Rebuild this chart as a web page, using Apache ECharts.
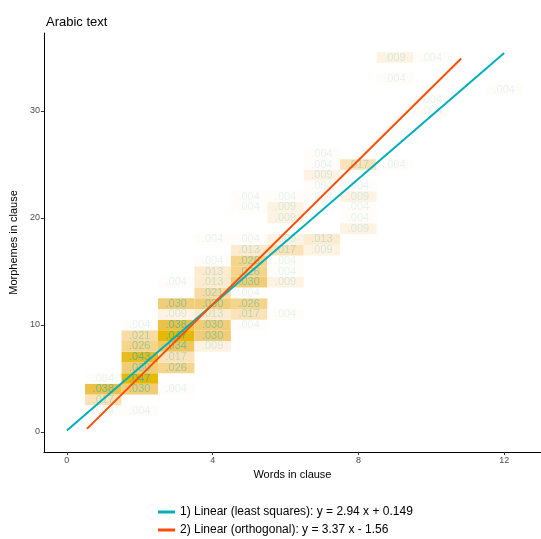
<!DOCTYPE html>
<html>
<head>
<meta charset="utf-8">
<script src="https://cdn.jsdelivr.net/npm/echarts@6/dist/echarts.min.js"></script>
<style>html,body{margin:0;padding:0;background:#fff;}#c{width:541px;height:539px;}</style>
</head>
<body>
<div id="c"></div>
<script>
// Cells: words in clause, morphemes in clause, proportion
var cellWords =      [1,1,1,1, 2,2,2,2,2,2,2,2, 3,3,3,3,3,3,3,3,3, 4,4,4,4,4,4,4,4,4,4, 5,5,5,5,5,5,5,5,5,5,5, 6,6,6,6,6,6,6,6,6, 7,7,7,7,7,7,7, 8,8,8,8,8,8, 9,9,9, 10,10,10, 12];
var cellMorphemes =  [2,3,4,5, 2,4,5,6,7,8,9,10, 4,6,7,8,9,10,11,12,14, 8,9,10,11,12,13,14,15,16,18, 10,11,12,13,14,15,16,17,18,21,22, 11,14,15,16,17,18,20,21,22, 17,18,22,23,24,25,26, 19,20,21,22,23,25, 25,33,35, 30,31,35, 32];
var cellProps = [
  0.004,0.017,0.038,0.004,
  0.004,0.030,0.047,0.030,0.043,0.026,0.021,0.004,
  0.004,0.026,0.017,0.034,0.047,0.038,0.009,0.030,0.004,
  0.009,0.030,0.030,0.013,0.030,0.021,0.013,0.013,0.004,0.004,
  0.004,0.017,0.026,0.004,0.030,0.026,0.026,0.013,0.004,0.004,0.004,
  0.004,0.009,0.004,0.004,0.017,0.009,0.009,0.009,0.004,
  0.009,0.013,0.004,0.004,0.009,0.004,0.004,
  0.009,0.004,0.004,0.009,0.004,0.017,
  0.004,0.004,0.009,
  0.004,0.004,0.004,
  0.004
];
var leastSquaresLine = [[0, 0.149], [12, 35.43]];
var orthogonalLine = [[0.55, 0.29], [10.82, 34.9]];
var seriesNames = ['1) Linear (least squares): y = 2.94 x + 0.149', '2) Linear (orthogonal): y = 3.37 x - 1.56'];
var xTicks = [0, 4, 8, 12];
var yTicks = [0, 10, 20, 30];

var cells = cellWords.map(function (w, i) { return [w, cellMorphemes[i], cellProps[i]]; });
var maxProp = Math.max.apply(null, cellProps);
var FONT = '"Liberation Sans", Arial, sans-serif';

function legendFor(name, top) {
  return {
    orient: 'horizontal', left: 153, top: top,
    icon: 'rect', itemWidth: 17, itemHeight: 3,
    textStyle: {fontSize: 12, color: '#000', fontFamily: FONT},
    data: [name]
  };
}

var chart = echarts.init(document.getElementById('c'), null, {renderer: 'canvas'});
chart.setOption({
  animation: false,
  backgroundColor: '#fff',
  textStyle: {fontFamily: FONT},
  title: {text: 'Arabic text', left: 41, top: 11, textStyle: {fontSize: 13, fontWeight: 'normal', color: '#000', fontFamily: FONT}},
  grid: {left: 43, top: 33, width: 498, height: 419, containLabel: false},
  xAxis: {
    type: 'value', min: -0.63, max: 13.01,
    axisLine: {show: true, onZero: false, lineStyle: {color: '#000', width: 1}},
    axisTick: {show: true, customValues: xTicks, length: 3, lineStyle: {color: '#333'}},
    axisLabel: {customValues: xTicks, color: '#4D4D4D', fontSize: 9, margin: 4},
    splitLine: {show: false},
    name: 'Words in clause', nameLocation: 'middle', nameGap: 15,
    nameTextStyle: {color: '#000', fontSize: 11}
  },
  yAxis: {
    type: 'value', min: -1.87, max: 37.29,
    axisLine: {show: true, onZero: false, lineStyle: {color: '#000', width: 1}},
    axisTick: {show: true, customValues: yTicks, length: 3, lineStyle: {color: '#333'}},
    axisLabel: {customValues: yTicks, color: '#4D4D4D', fontSize: 9, margin: 4},
    splitLine: {show: false},
    name: 'Morphemes in clause', nameLocation: 'middle', nameGap: 19,
    nameTextStyle: {color: '#000', fontSize: 11}
  },
  visualMap: {
    show: false, seriesIndex: 0, dimension: 2, min: 0, max: maxProp,
    inRange: {color: ['#FFFFFF', '#FFFCF8', '#FEF2E0', '#FCE9C8', '#FAE0B0', '#F7D898', '#F4D082', '#F0C968', '#ECC24A', '#E9BC28', '#E7B800']}
  },
  legend: [legendFor(seriesNames[0], 501), legendFor(seriesNames[1], 519)],
  series: [
    {
      type: 'custom', data: cells, z: 1,
      renderItem: function (params, api) {
        var x = api.value(0), y = api.value(1), v = api.value(2);
        var p0 = api.coord([x - 0.5, y + 0.5]);
        var p1 = api.coord([x + 0.5, y - 0.5]);
        var a = 0.06 + 0.54 * v / maxProp;
        return {type: 'group', children: [
          {type: 'rect', shape: {x: p0[0], y: p0[1], width: p1[0] - p0[0], height: p1[1] - p0[1]}, style: {fill: api.visual('color')}},
          {type: 'text', style: {text: v.toFixed(3).replace(/^0/, ''), x: (p0[0] + p1[0]) / 2, y: (p0[1] + p1[1]) / 2,
            align: 'center', verticalAlign: 'middle', fill: 'rgba(0,175,187,' + a.toFixed(3) + ')', font: '11px ' + FONT}}
        ]};
      }
    },
    {name: seriesNames[0], type: 'line', data: leastSquaresLine, showSymbol: false, z: 5,
      lineStyle: {color: '#00AFBB', width: 2}, itemStyle: {color: '#00AFBB'}},
    {name: seriesNames[1], type: 'line', data: orthogonalLine, showSymbol: false, z: 5,
      lineStyle: {color: '#FC4E07', width: 2}, itemStyle: {color: '#FC4E07'}}
  ]
});
</script>
</body>
</html>
